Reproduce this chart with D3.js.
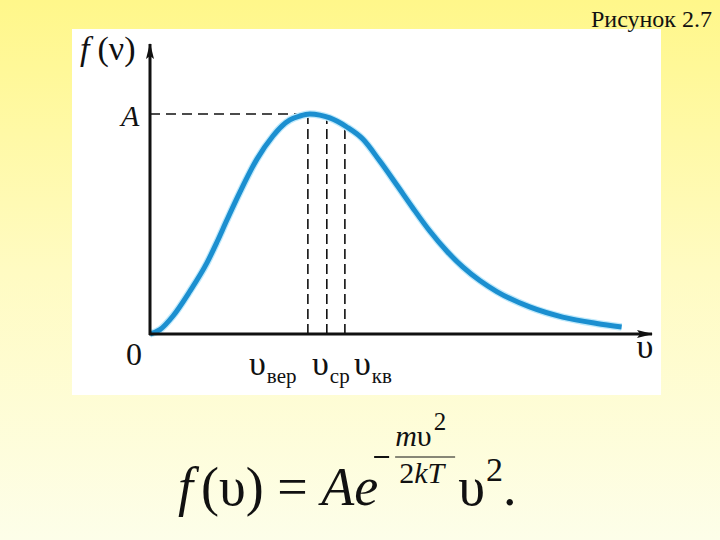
<!DOCTYPE html>
<html>
<head>
<meta charset="UTF-8">
<script src="https://d3js.org/d3.v7.min.js"></script>
<style>
  html, body { margin: 0; padding: 0; }
  svg { display: block; }
</style>
</head>
<body>
<div class="canva"></div>
<script>
// speed (in units of the most probable speed) and f(v) relative to A
const speeds = [0, 0.0625, 0.144, 0.25, 0.356, 0.419, 0.481, 0.5625, 0.669, 0.769, 0.825,
  0.875, 0.9375, 1.0, 1.0625, 1.125, 1.231, 1.331, 1.4375, 1.544, 1.644, 1.75, 1.856,
  1.956, 2.0625, 2.169, 2.375, 2.581, 2.794, 2.95];
const density = [0, 0.02, 0.082, 0.195, 0.323, 0.418, 0.518, 0.645, 0.795, 0.9, 0.945,
  0.973, 0.991, 1.0, 0.995, 0.982, 0.941, 0.886, 0.786, 0.677, 0.573, 0.468, 0.377,
  0.305, 0.243, 0.193, 0.123, 0.077, 0.048, 0.032];

// characteristic speeds: most probable, mean, root-mean-square
const markerSpeeds = [0.9875, 1.106, 1.219];
const markerDensity = [1.0, 0.984, 0.95];
const markerSubs = ["вер", "ср", "кв"];

const width = 720, height = 540;
const serif = '"Liberation Serif"';

const svg = d3.select(".canva").append("svg")
  .attr("width", width)
  .attr("height", height);

function txt(parent) {
  return parent.append("text").style("font-family", serif).attr("fill", "#111");
}

// yellow slide background
const defs = svg.append("defs");
const grad = defs.append("linearGradient")
  .attr("id", "bg").attr("x1", 0).attr("y1", 0).attr("x2", 0).attr("y2", 1);
grad.append("stop").attr("offset", "0%").attr("stop-color", "#fff78a");
grad.append("stop").attr("offset", "50%").attr("stop-color", "#fffbc2");
grad.append("stop").attr("offset", "100%").attr("stop-color", "#fdfee9");

svg.append("rect").attr("width", width).attr("height", height).attr("fill", "url(#bg)");

// white picture panel
svg.append("rect")
  .attr("x", 72).attr("y", 29)
  .attr("width", 589).attr("height", 366)
  .attr("fill", "#ffffff");

txt(svg)
  .attr("x", 712).attr("y", 27)
  .attr("text-anchor", "end")
  .attr("font-size", 24)
  .text("Рисунок 2.7");

const x = d3.scaleLinear().domain([0, 3.14]).range([150, 652]);
const y = d3.scaleLinear().domain([0, 1.3]).range([334, 48]);

// arrow heads
defs.append("marker")
  .attr("id", "arrow")
  .attr("viewBox", "0 0 16 8")
  .attr("refX", 15).attr("refY", 4)
  .attr("markerWidth", 16).attr("markerHeight", 8)
  .attr("markerUnits", "userSpaceOnUse")
  .attr("orient", "auto")
  .append("path")
  .attr("d", "M0,0 L16,4 L0,8 L3,4 Z")
  .attr("fill", "#111");

// dashed guide lines
svg.append("line")
  .attr("x1", x(0)).attr("x2", x(markerSpeeds[0]))
  .attr("y1", y(1)).attr("y2", y(1))
  .attr("stroke", "#111").attr("stroke-width", 1.6)
  .attr("stroke-dasharray", "10,6");

svg.selectAll(".guide")
  .data(markerSpeeds)
  .join("line")
  .attr("class", "guide")
  .attr("x1", d => x(d)).attr("x2", d => x(d))
  .attr("y1", y(0)).attr("y2", (d, i) => y(markerDensity[i]))
  .attr("stroke", "#111").attr("stroke-width", 1.6)
  .attr("stroke-dasharray", "10,5");

// curve
const line = d3.line()
  .x((d, i) => x(speeds[i]))
  .y(d => y(d))
  .curve(d3.curveMonotoneX);

svg.append("path")
  .datum(density)
  .attr("d", line)
  .attr("fill", "none")
  .attr("stroke", "#bfe9fb")
  .attr("stroke-width", 7.5);

svg.append("path")
  .datum(density)
  .attr("d", line)
  .attr("fill", "none")
  .attr("stroke", "#1b8fd0")
  .attr("stroke-width", 5);

// axes
svg.append("line")
  .attr("x1", x(0) - 1).attr("y1", y(0))
  .attr("x2", x(3.14)).attr("y2", y(0))
  .attr("stroke", "#111").attr("stroke-width", 3)
  .attr("marker-end", "url(#arrow)");

svg.append("line")
  .attr("x1", x(0)).attr("y1", y(0) + 1)
  .attr("x2", x(0)).attr("y2", 44)
  .attr("stroke", "#111").attr("stroke-width", 3)
  .attr("marker-end", "url(#arrow)");

// axis labels
txt(svg)
  .attr("x", 134).attr("y", 365)
  .attr("text-anchor", "middle")
  .attr("font-size", 32)
  .text("0");

txt(svg)
  .attr("x", 121).attr("y", 126)
  .attr("font-size", 30)
  .attr("font-style", "italic")
  .text("A");

const fl = txt(svg)
  .attr("x", 80).attr("y", 60)
  .attr("font-size", 34);
fl.append("tspan").attr("font-style", "italic").text("f");
fl.append("tspan").attr("dx", 8).text("(ν)");

txt(svg)
  .attr("x", 645).attr("y", 358)
  .attr("text-anchor", "middle")
  .attr("font-size", 34)
  .text("υ");

const subStarts = [249, 312, 354];
markerSubs.forEach((s, i) => {
  const t = txt(svg)
    .attr("x", subStarts[i])
    .attr("y", 375)
    .attr("font-size", 34);
  t.append("tspan").text("υ");
  t.append("tspan").attr("font-size", 21).attr("dy", 8).attr("dx", 1).text(s);
});

// formula
const mainText = txt(svg)
  .attr("x", 178).attr("y", 505)
  .attr("font-size", 54);
mainText.append("tspan").attr("font-style", "italic").text("f");
mainText.append("tspan").attr("dx", 8).text("(υ) = ");
mainText.append("tspan").attr("font-style", "italic").text("Ae");

const ex = 178 + mainText.node().getComputedTextLength() + 4;

svg.append("line")
  .attr("x1", ex).attr("x2", ex + 15)
  .attr("y1", 457).attr("y2", 457)
  .attr("stroke", "#111").attr("stroke-width", 2);

svg.append("line")
  .attr("x1", ex + 21).attr("x2", ex + 81)
  .attr("y1", 457).attr("y2", 457)
  .attr("stroke", "#111").attr("stroke-width", 1);

const num = txt(svg)
  .attr("x", ex + 21).attr("y", 446)
  .attr("font-size", 30);
num.append("tspan").attr("font-style", "italic").text("m");
num.append("tspan").text("υ");
num.append("tspan").attr("font-size", 25).attr("dy", -16).attr("dx", 2).text("2");

const den = txt(svg)
  .attr("x", ex + 25).attr("y", 483)
  .attr("font-size", 30);
den.append("tspan").text("2");
den.append("tspan").attr("font-style", "italic").text("kT");

const tail = txt(svg)
  .attr("x", ex + 84).attr("y", 505)
  .attr("font-size", 54);
tail.append("tspan").text("υ");
tail.append("tspan").attr("font-size", 34).attr("dy", -24).attr("dx", 1).text("2");
tail.append("tspan").attr("dy", 24).attr("font-size", 54).text(".");
</script>
</body>
</html>
